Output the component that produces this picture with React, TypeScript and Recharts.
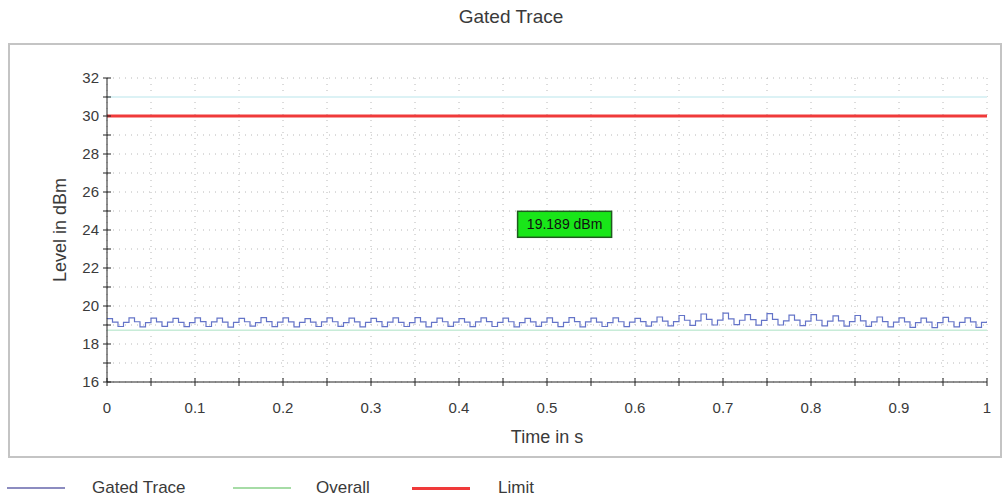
import { LineChart, Line, XAxis, YAxis, CartesianGrid, ReferenceLine, ReferenceDot } from "recharts";

// gated trace, one sample every 6.25 ms (high, rising, low, falling per 25 ms cycle)
const sampleStep = 0.00625;
const gatedLevels = [
  19.34, 19.15, 18.92, 19.14, 19.37, 19.17, 18.9, 19.13,
  19.36, 19.16, 18.93, 19.15, 19.35, 19.14, 18.91, 19.12,
  19.38, 19.18, 18.92, 19.16, 19.36, 19.15, 18.89, 19.14,
  19.35, 19.17, 18.94, 19.13, 19.39, 19.18, 18.91, 19.15,
  19.37, 19.16, 18.9, 19.14, 19.34, 19.15, 18.92, 19.16,
  19.38, 19.17, 18.93, 19.12, 19.36, 19.16, 18.9, 19.14,
  19.35, 19.18, 18.91, 19.15, 19.37, 19.14, 18.92, 19.13,
  19.39, 19.16, 18.9, 19.14, 19.36, 19.17, 18.93, 19.15,
  19.34, 19.15, 18.91, 19.16, 19.38, 19.18, 18.92, 19.14,
  19.36, 19.17, 18.9, 19.13, 19.35, 19.16, 18.93, 19.15,
  19.37, 19.14, 18.91, 19.14, 19.39, 19.18, 18.9, 19.16,
  19.36, 19.15, 18.92, 19.13, 19.38, 19.17, 18.91, 19.15,
  19.35, 19.18, 18.94, 19.16, 19.42, 19.2, 18.95, 19.18,
  19.5, 19.25, 18.98, 19.22, 19.58, 19.3, 19.0, 19.26,
  19.62, 19.32, 19.02, 19.25, 19.55, 19.28, 18.99, 19.24,
  19.6, 19.3, 19.0, 19.22, 19.52, 19.26, 18.97, 19.2,
  19.55, 19.25, 18.95, 19.2, 19.48, 19.22, 18.94, 19.18,
  19.5, 19.22, 18.93, 19.16, 19.42, 19.18, 18.9, 19.15,
  19.38, 19.16, 18.88, 19.12, 19.36, 19.15, 18.86, 19.12,
  19.4, 19.17, 18.9, 19.14, 19.37, 19.16, 18.88, 19.14,
  19.2,
];

const timeTicks = [0, 0.05, 0.1, 0.15, 0.2, 0.25, 0.3, 0.35, 0.4, 0.45, 0.5, 0.55, 0.6, 0.65, 0.7, 0.75, 0.8, 0.85, 0.9, 0.95, 1];
const levelTicks = [16, 17, 18, 19, 20, 21, 22, 23, 24, 25, 26, 27, 28, 29, 30, 31, 32];

const limitLevel = 30;
const overallLevel = 18.72;
const markerTime = 0.52;
const markerLevel = 24.3;
const markerText = "19.189 dBm";

const data = gatedLevels.map((level, i) => ({ time: Math.round(i * sampleStep * 100000) / 100000, level }));

const font = "'Liberation Sans', Arial, sans-serif";
const textColor = "#3a3a3a";

function TimeTick({ x, y, payload }: any) {
  const v = payload.value;
  const major = Math.abs(v * 10 - Math.round(v * 10)) < 1e-6;
  return (
    <g>
      <line x1={x} x2={x} y1={y - 4} y2={y + 4} stroke="#222" />
      {major && (
        <text x={x} y={y + 31} textAnchor="middle" fontSize={15} fontFamily={font} fill={textColor}>
          {String(Math.round(v * 10) / 10)}
        </text>
      )}
    </g>
  );
}

function LevelTick({ x, y, payload }: any) {
  const v = payload.value;
  const major = v % 2 === 0;
  return (
    <g>
      <line x1={x - 4} x2={x + 4} y1={y} y2={y} stroke="#222" />
      {major && (
        <text x={x - 8} y={y + 5} textAnchor="end" fontSize={15} fontFamily={font} fill={textColor}>
          {v}
        </text>
      )}
    </g>
  );
}

function MarkerBox({ cx, cy }: any) {
  return (
    <g>
      <rect x={cx - 47} y={cy - 13} width={94} height={26} fill="#19e619" stroke="#1f5a1f" strokeWidth={1.5} />
      <text x={cx} y={cy + 5} textAnchor="middle" fontSize={14} fontFamily={font} fill="#111">
        {markerText}
      </text>
    </g>
  );
}

const legendItems = [
  { name: "Gated Trace", color: "#8c8cc0", width: 1.5, lineX: 7, textX: 92 },
  { name: "Overall", color: "#a6dca6", width: 1.5, lineX: 233, textX: 316 },
  { name: "Limit", color: "#f03a3a", width: 3, lineX: 412, textX: 498 },
];

export default function App() {
  return (
    <div style={{ position: "absolute", left: 0, top: 0, width: 1007, height: 501, background: "#fff", fontFamily: font }}>
      <div style={{ position: "absolute", left: 0, width: 1022, top: 6, textAlign: "center", fontSize: 19, color: textColor }}>
        Gated Trace
      </div>
      <div style={{ position: "absolute", left: 8, top: 43, width: 990, height: 411, border: "2px solid #c4c4c4" }} />
      <div style={{ position: "absolute", left: 0, top: 0 }}>
        <LineChart width={1007} height={501} data={data} margin={{ top: 78, right: 20, bottom: 89, left: 67 }}>
          <CartesianGrid stroke="#b8b8b8" strokeDasharray="1 5" />
          <XAxis
            dataKey="time"
            type="number"
            domain={[0, 1]}
            ticks={timeTicks}
            height={30}
            tickSize={0}
            tickMargin={0}
            tick={<TimeTick />}
            axisLine={{ stroke: "#222" }}
            allowDataOverflow
            interval={0}
          />
          <YAxis
            type="number"
            domain={[16, 32]}
            ticks={levelTicks}
            width={40}
            tickSize={0}
            tickMargin={0}
            tick={<LevelTick />}
            axisLine={{ stroke: "#222" }}
            allowDataOverflow
            interval={0}
          />
          <ReferenceLine y={31} stroke="#dcf2f5" strokeWidth={2} />
          <ReferenceLine y={overallLevel} stroke="#c8ecd8" strokeWidth={1.5} />
          <ReferenceLine y={limitLevel} stroke="#f03a3a" strokeWidth={3} />
          <Line
            type="stepAfter"
            dataKey="level"
            stroke="#6474c8"
            strokeWidth={1.2}
            dot={false}
            isAnimationActive={false}
          />
          <ReferenceDot x={markerTime} y={markerLevel} r={1} shape={(p: any) => <MarkerBox cx={p.cx} cy={p.cy} />} />
        </LineChart>
      </div>
      <div
        style={{
          position: "absolute",
          left: 60,
          top: 230,
          transform: "translate(-50%, -50%) rotate(-90deg)",
          fontSize: 18,
          color: textColor,
          whiteSpace: "nowrap",
        }}
      >
        Level in dBm
      </div>
      <div style={{ position: "absolute", left: 547, top: 427, transform: "translateX(-50%)", fontSize: 18, color: textColor }}>
        Time in s
      </div>
      {legendItems.map((item) => (
        <div key={item.name}>
          <div
            style={{
              position: "absolute",
              left: item.lineX,
              top: 488 - item.width / 2,
              width: 58,
              height: item.width,
              background: item.color,
            }}
          />
          <div style={{ position: "absolute", left: item.textX, top: 478, fontSize: 17, color: textColor }}>{item.name}</div>
        </div>
      ))}
    </div>
  );
}
